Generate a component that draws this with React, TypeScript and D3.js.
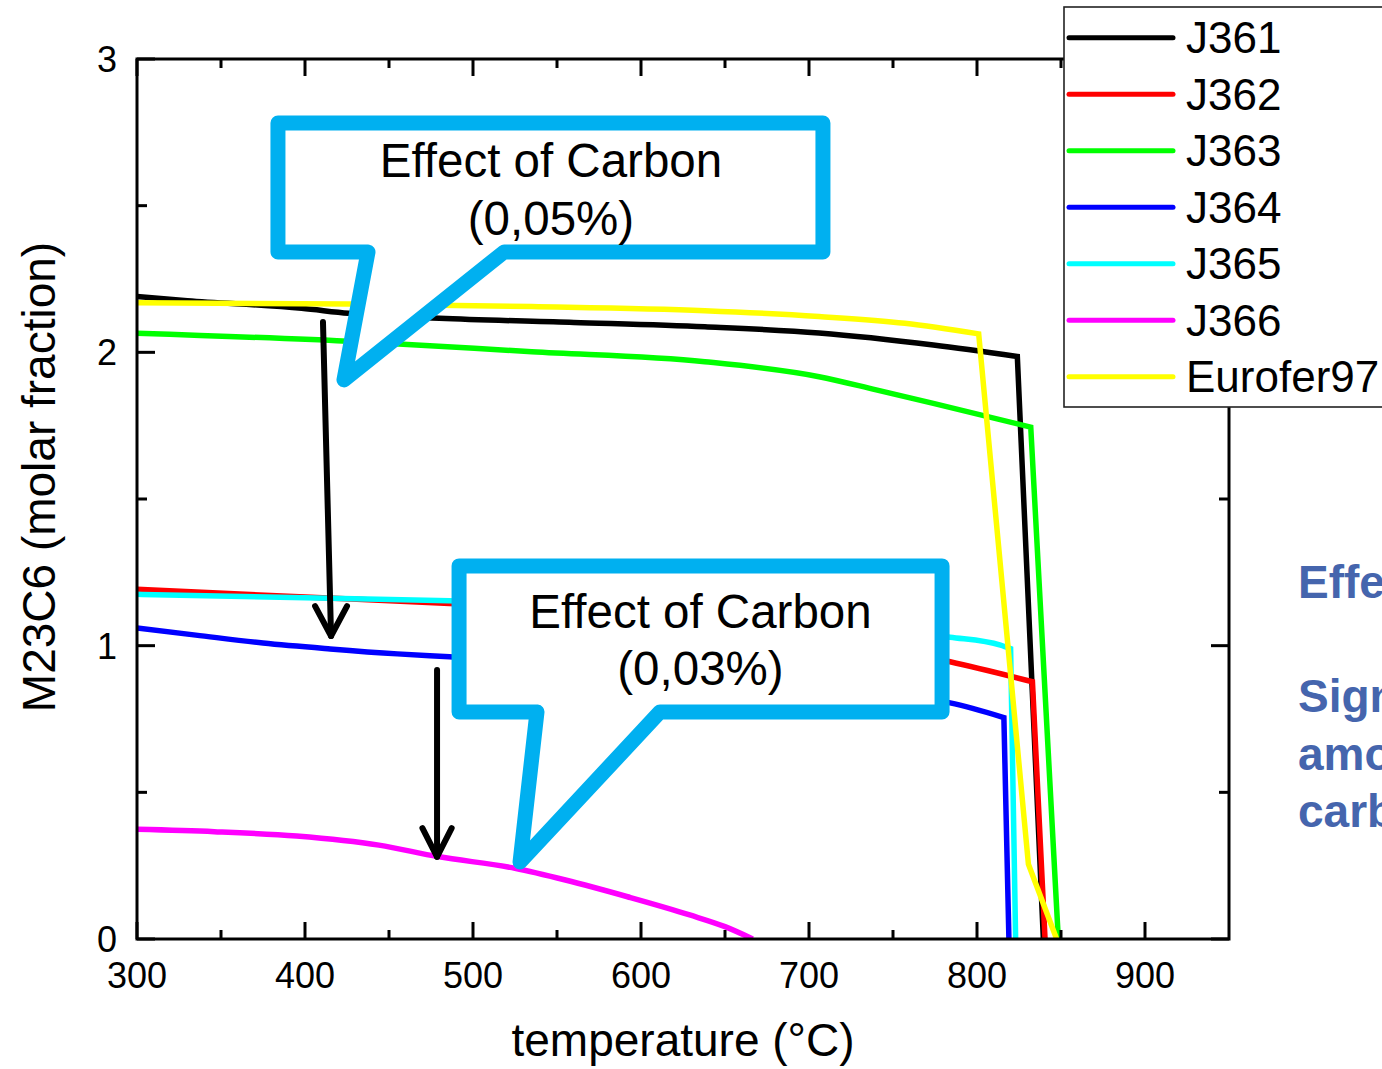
import React from 'react'
import * as d3 from 'd3'

// series values: [temperature °C, M23C6 molar fraction]
const j361 = [[300, 2.19], [330, 2.176], [398, 2.15], [426, 2.133], [480, 2.116], [560, 2.102], [638, 2.087], [706, 2.066], [774, 2.025], [824, 1.986], [839.5, 0]]
const j362 = [[300, 1.192], [400, 1.166], [486, 1.144], [550, 1.125], [600, 1.1], [650, 1.07], [700, 1.03], [750, 0.985], [784, 0.945], [833, 0.877], [840.5, 0]]
const j363 = [[300, 2.065], [432, 2.036], [535, 2.002], [638, 1.968], [706, 1.917], [740, 1.872], [774, 1.826], [832, 1.745], [848.4, 0]]
const j364 = [[300, 1.06], [335, 1.036], [375, 1.009], [415, 0.989], [455, 0.972], [486, 0.962], [550, 0.94], [600, 0.92], [650, 0.895], [700, 0.865], [750, 0.83], [784, 0.805], [816, 0.755], [819, 0]]
const j365 = [[300, 1.175], [400, 1.163], [486, 1.153], [550, 1.14], [600, 1.125], [650, 1.105], [700, 1.08], [750, 1.05], [784, 1.029], [814, 1.002], [820, 0.99], [823, 0]]
const j366 = [[300, 0.374], [346, 0.366], [395, 0.351], [444, 0.32], [479, 0.281], [525, 0.241], [555, 0.201], [592, 0.144], [629, 0.082], [650, 0.042], [666.5, 0]]
const eurofer97 = [[300, 2.169], [426, 2.165], [535, 2.156], [638, 2.142], [706, 2.122], [757, 2.099], [801, 2.063], [830.6, 0.255], [847.4, 0]]

const seriesNames = ['J361', 'J362', 'J363', 'J364', 'J365', 'J366', 'Eurofer97']
const seriesData = [j361, j362, j363, j364, j365, j366, eurofer97]
const seriesColors = ['#000000', '#ff0000', '#00ff00', '#0000ff', '#00ffff', '#ff00ff', '#ffff00']
// index of the point where the slow decline turns into the steep drop
const seriesKnee = [9, 9, 7, 12, 10, 10, 6]

const xTicks = [300, 400, 500, 600, 700, 800, 900]
const xMinor = [350, 450, 550, 650, 750, 850]
const yTicks = [0, 1, 2, 3]
const yMinor = [0.5, 1.5, 2.5]

// callouts, in data units: rect [t0, t1, vTop, vBottom], tail [tLeft, tipT, tipV, tRight]
const callouts = [
  { rect: [383.9, 708.3, 2.782, 2.342], tail: [437.5, 423.2, 1.906, 518.5], cx: 546.4, lines: ['Effect of Carbon', '(0,05%)'], base: [2.598, 2.4] },
  { rect: [491.7, 779.2, 1.272, 0.774], tail: [538.1, 528, 0.2625, 611.3], cx: 635.4, lines: ['Effect of Carbon', '(0,03%)'], base: [1.06, 0.866] },
]
// arrows: [t0, v0, t1, v1, head half-width in °C, head length]
const arrows = [
  [410.7, 2.103, 415.5, 1.033, 9.5, 0.102],
  [478.6, 0.917, 478.6, 0.28, 8.7, 0.098],
]
const sideText = ['Effect of carbon', 'Significant', 'amount of', 'carbides']

const font = '"Liberation Sans", Arial, sans-serif'

export default function App() {
  const W = 1382, H = 1069
  const left = 137, right = 1229, top = 59, bottom = 939
  const x = d3.scaleLinear().domain([300, 950]).range([left, right])
  const y = d3.scaleLinear().domain([0, 3]).range([bottom, top])
  const smooth = d3.line<number[]>().x(d => x(d[0])).y(d => y(d[1])).curve(d3.curveMonotoneX)
  const straight = d3.line<number[]>().x(d => x(d[0])).y(d => y(d[1]))

  const seriesPath = (d: number[][], knee: number) => {
    const head = smooth(d.slice(0, knee + 1)) || ''
    const rest = d.slice(knee)
    return rest.length > 1 ? head + (straight(rest) || '').replace(/^M/, 'L') : head
  }

  const calloutPath = (c: any) => {
    const [t0, t1, vt, vb] = c.rect
    const [tl, tt, tv, tr] = c.tail
    const p = d3.path()
    p.moveTo(x(t0), y(vt))
    p.lineTo(x(t1), y(vt))
    p.lineTo(x(t1), y(vb))
    p.lineTo(x(tr), y(vb))
    p.lineTo(x(tt), y(tv))
    p.lineTo(x(tl), y(vb))
    p.lineTo(x(t0), y(vb))
    p.closePath()
    return p.toString()
  }

  const legendTop = 37.7, legendStep = 56.5

  return (
    <svg width={W} height={H} style={{ position: 'absolute', left: 0, top: 0, background: '#fff' }} fontFamily={font}>
      <defs>
        <clipPath id="plot"><rect x={left} y={top - 5} width={right - left} height={bottom - top + 5} /></clipPath>
      </defs>

      <g clipPath="url(#plot)">
        {seriesData.map((d, i) => (
          <path key={i} d={seriesPath(d, seriesKnee[i])} fill="none" stroke={seriesColors[i]} strokeWidth={5.5} />
        ))}
      </g>

      {/* frame and ticks, pointing inward */}
      <g stroke="#000" strokeWidth={3}>
        <rect x={left} y={top} width={right - left} height={bottom - top} fill="none" />
        {xTicks.map(t => (
          <g key={t}>
            <line x1={x(t)} x2={x(t)} y1={bottom} y2={bottom - 17} />
            <line x1={x(t)} x2={x(t)} y1={top} y2={top + 17} />
          </g>
        ))}
        {xMinor.map(t => (
          <g key={t}>
            <line x1={x(t)} x2={x(t)} y1={bottom} y2={bottom - 9} />
            <line x1={x(t)} x2={x(t)} y1={top} y2={top + 9} />
          </g>
        ))}
        {yTicks.map(v => (
          <g key={v}>
            <line x1={left} x2={left + 18} y1={y(v)} y2={y(v)} />
            <line x1={right} x2={right - 18} y1={y(v)} y2={y(v)} />
          </g>
        ))}
        {yMinor.map(v => (
          <g key={v}>
            <line x1={left} x2={left + 10} y1={y(v)} y2={y(v)} />
            <line x1={right} x2={right - 10} y1={y(v)} y2={y(v)} />
          </g>
        ))}
      </g>

      {xTicks.map(t => (
        <text key={t} x={x(t)} y={988} fontSize={36} textAnchor="middle">{t}</text>
      ))}
      {yTicks.map(v => (
        <text key={v} x={117} y={y(v) + 13} fontSize={36} textAnchor="end">{v}</text>
      ))}

      <text x={683} y={1056} fontSize={46} textAnchor="middle">temperature (°C)</text>
      <text transform="translate(55,477) rotate(-90)" fontSize={46} textAnchor="middle">M23C6 (molar fraction)</text>

      {/* annotations */}
      {arrows.map((a, i) => {
        const [t0, v0, t1, v1, hw, hl] = a
        const hv = v1 + hl
        return (
          <g key={i} stroke="#000" strokeWidth={6} strokeLinecap="round" strokeLinejoin="round" fill="none">
            <line x1={x(t0)} y1={y(v0)} x2={x(t1)} y2={y(v1)} />
            <polyline points={`${x(t1 - hw)},${y(hv)} ${x(t1)},${y(v1)} ${x(t1 + hw)},${y(hv)}`} />
          </g>
        )
      })}
      {callouts.map((c, i) => (
        <g key={i}>
          <path d={calloutPath(c)} fill="#fff" stroke="#00b0f0" strokeWidth={15} strokeLinejoin="round" />
          {c.lines.map((s, j) => (
            <text key={j} x={x(c.cx)} y={y(c.base[j])} fontSize={47.5} textAnchor="middle">{s}</text>
          ))}
        </g>
      ))}

      {/* legend */}
      <g>
        <rect x={1064} y={7} width={340} height={400} fill="#fff" stroke="#222" strokeWidth={1.6} />
        {seriesNames.map((n, i) => {
          const ry = legendTop + i * legendStep
          return (
            <g key={n}>
              <line x1={1069} x2={1173} y1={ry} y2={ry} stroke={seriesColors[i]} strokeWidth={5} strokeLinecap="round" />
              <text x={1186} y={ry + 15.5} fontSize={44}>{n}</text>
            </g>
          )
        })}
      </g>

      {sideText.map((s, i) => (
        <text key={i} x={1298} y={[598, 712, 770, 827][i]} fontSize={46} fontWeight="bold" fill="#4565ad">{s}</text>
      ))}
    </svg>
  )
}
